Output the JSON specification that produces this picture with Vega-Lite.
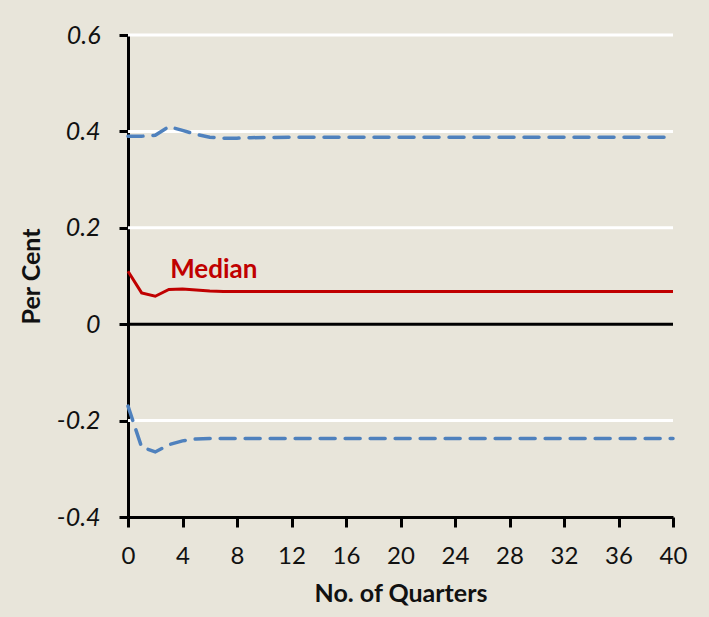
{
  "$schema": "https://vega.github.io/schema/vega-lite/v6.json",
  "autosize": {"type": "none"},
  "width": 545,
  "height": 482,
  "padding": {"left": 128, "top": 35, "right": 36, "bottom": 100},
  "background": "#E8E5DA",
  "config": {
    "view": {"stroke": null},
    "font": "Lato"
  },
  "datasets": {
    "lines": [
      {"q": 0, "series": "Median", "v": 0.11},
      {"q": 1, "series": "Median", "v": 0.065},
      {"q": 2, "series": "Median", "v": 0.058},
      {"q": 3, "series": "Median", "v": 0.072},
      {"q": 4, "series": "Median", "v": 0.073},
      {"q": 5, "series": "Median", "v": 0.071},
      {"q": 6, "series": "Median", "v": 0.069},
      {"q": 7, "series": "Median", "v": 0.068},
      {"q": 8, "series": "Median", "v": 0.068},
      {"q": 12, "series": "Median", "v": 0.068},
      {"q": 20, "series": "Median", "v": 0.068},
      {"q": 30, "series": "Median", "v": 0.068},
      {"q": 40, "series": "Median", "v": 0.068},
      {"q": 0, "series": "Upper", "v": 0.39},
      {"q": 1, "series": "Upper", "v": 0.39},
      {"q": 2, "series": "Upper", "v": 0.392},
      {"q": 3, "series": "Upper", "v": 0.41},
      {"q": 4, "series": "Upper", "v": 0.402},
      {"q": 5, "series": "Upper", "v": 0.394},
      {"q": 6, "series": "Upper", "v": 0.388},
      {"q": 7, "series": "Upper", "v": 0.386},
      {"q": 8, "series": "Upper", "v": 0.386},
      {"q": 9, "series": "Upper", "v": 0.387},
      {"q": 12, "series": "Upper", "v": 0.388},
      {"q": 20, "series": "Upper", "v": 0.388},
      {"q": 30, "series": "Upper", "v": 0.388},
      {"q": 40, "series": "Upper", "v": 0.388},
      {"q": 0, "series": "Lower", "v": -0.17},
      {"q": 1, "series": "Lower", "v": -0.255},
      {"q": 2, "series": "Lower", "v": -0.265},
      {"q": 3, "series": "Lower", "v": -0.25},
      {"q": 4, "series": "Lower", "v": -0.242},
      {"q": 5, "series": "Lower", "v": -0.238},
      {"q": 6, "series": "Lower", "v": -0.237},
      {"q": 8, "series": "Lower", "v": -0.237},
      {"q": 12, "series": "Lower", "v": -0.237},
      {"q": 20, "series": "Lower", "v": -0.237},
      {"q": 30, "series": "Lower", "v": -0.237},
      {"q": 40, "series": "Lower", "v": -0.237}
    ]
  },
  "layer": [
    {
      "data": {"values": [{"v": 0.6}, {"v": 0.4}, {"v": 0.2}, {"v": -0.2}]},
      "mark": {"type": "rule", "color": "white", "strokeWidth": 3},
      "encoding": {
        "y": {"field": "v", "type": "quantitative", "scale": {"domain": [-0.4, 0.6]}}
      }
    },
    {
      "data": {"values": [{"v": 0}]},
      "mark": {"type": "rule", "color": "black", "strokeWidth": 3},
      "encoding": {
        "y": {"field": "v", "type": "quantitative"}
      }
    },
    {
      "data": {"name": "lines"},
      "transform": [{"filter": "datum.series != 'Median'"}],
      "mark": {"type": "line", "color": "#4F81BD", "strokeWidth": 3.5, "strokeDash": [15, 10], "strokeCap": "round"},
      "encoding": {
        "x": {"field": "q", "type": "quantitative"},
        "y": {"field": "v", "type": "quantitative"},
        "detail": {"field": "series"}
      }
    },
    {
      "data": {"name": "lines"},
      "transform": [{"filter": "datum.series == 'Median'"}],
      "mark": {"type": "line", "color": "#C00000", "strokeWidth": 3},
      "encoding": {
        "x": {"field": "q", "type": "quantitative"},
        "y": {"field": "v", "type": "quantitative"}
      }
    },
    {
      "data": {"values": [{"q": 6.3, "v": 0.112, "label": "Median"}]},
      "mark": {"type": "text", "color": "#C00000", "fontSize": 26, "fontWeight": "bold", "align": "center", "baseline": "middle"},
      "encoding": {
        "x": {"field": "q", "type": "quantitative"},
        "y": {"field": "v", "type": "quantitative"},
        "text": {"field": "label"}
      }
    },
    {
      "data": {"values": [{}]},
      "mark": {"type": "point", "opacity": 0},
      "encoding": {
        "x": {
          "datum": 0, "type": "quantitative",
          "scale": {"domain": [0, 40], "nice": false},
          "axis": {
            "title": "No. of Quarters",
            "values": [0,1,2,3,4,5,6,7,8,9,10,11,12,13,14,15,16,17,18,19,20,21,22,23,24,25,26,27,28,29,30,31,32,33,34,35,36,37,38,39,40],
            "labelExpr": "datum.value % 4 == 0 ? datum.label : ''",
            "grid": false,
            "domainColor": "black", "domainWidth": 3,
            "tickColor": "black", "tickWidth": 3, "tickSize": 10,
            "labelFont": "Lato", "labelFontSize": 24, "labelColor": "#111111", "labelPadding": 17,
            "labelFlush": false,
            "titleFont": "Lato", "titleFontSize": 25, "titleFontWeight": "bold", "titleColor": "#111111", "titlePadding": 13
          }
        },
        "y": {
          "datum": 0, "type": "quantitative",
          "scale": {"domain": [-0.4, 0.6], "nice": false},
          "axis": {
            "title": "Per Cent",
            "values": [-0.4, -0.2, 0, 0.2, 0.4, 0.6],
            "labelExpr": "datum.value == 0 ? '0' : replace(format(datum.value, '.1f'), '\u2212', '-')",
            "grid": false,
            "domainColor": "black", "domainWidth": 3,
            "tickColor": "black", "tickWidth": 3, "tickSize": 9,
            "labelFont": "Lato", "labelFontSize": 25, "labelFontStyle": "italic", "labelColor": "#111111", "labelPadding": 19,
            "labelFlush": false,
            "titleFont": "Lato", "titleFontSize": 25, "titleFontWeight": "bold", "titleColor": "#111111", "titlePadding": 12
          }
        }
      }
    }
  ]
}
